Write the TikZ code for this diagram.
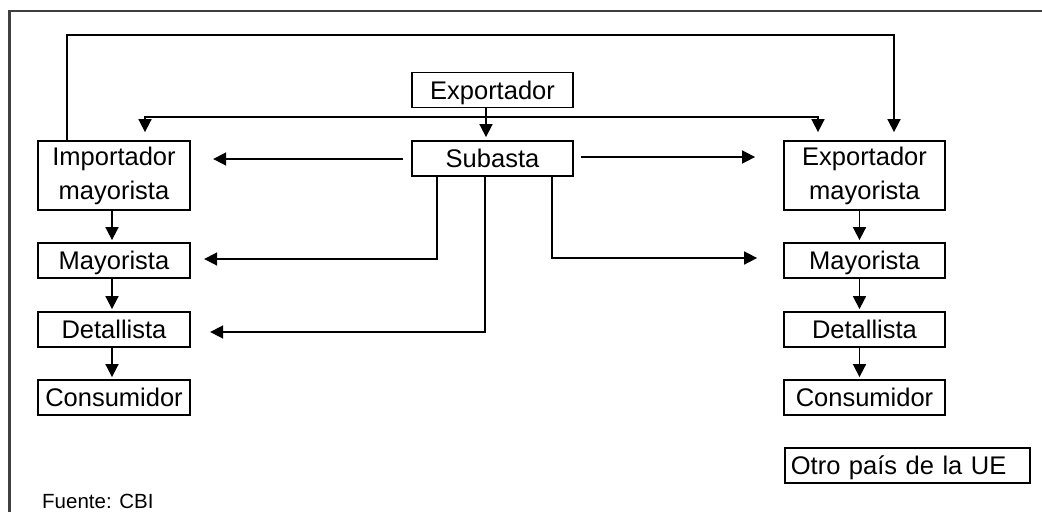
\documentclass[tikz,border=0pt]{standalone}
\usepackage{fontspec}
\setmainfont{Liberation Sans}
\usetikzlibrary{arrows.meta}
\begin{document}
\begin{tikzpicture}[x=1pt,y=-1pt,
  every node/.style={font=\fontsize{25.5}{34}\selectfont},
  box/.style={draw=black, line width=1.8pt, inner sep=0pt, minimum height=35pt},
  one/.style={text height=18.3pt, text depth=0pt},
  lbox/.style={box, minimum width=152.5pt},
  rbox/.style={box, minimum width=161pt},
  ln/.style={draw=black, line width=1.7pt},
  arr/.style={ln, -{Triangle[width=13pt,length=13pt]}},
  darr/.style={ln, {Triangle[width=13pt,length=13pt]}-{Triangle[width=13pt,length=13pt]}}
]
\useasboundingbox (0,0) rectangle (1042,512);
\fill[white] (0,0) rectangle (1042,512);
% frame (top and left edges)
\draw[draw=black!75, line width=2.5pt] (9.5,512) -- (9.5,11) -- (1042,11);

% nodes
\node[rbox, one] (exp) at (492.5,90) {Exportador};
\node[rbox, one] (sub) at (492.5,158.5) {Subasta};
\node[lbox, minimum height=69pt, align=center] (imp) at (114,175.5) {Importador\\mayorista};
\node[lbox, one] (may1) at (114,260.5) {Mayorista};
\node[lbox, one] (det1) at (114,329.5) {Detallista};
\node[lbox, one] (con1) at (114,397.5) {Consumidor};
\node[rbox, minimum height=69pt, align=center] (em) at (864.5,175.5) {Exportador\\mayorista};
\node[rbox, one] (may2) at (864.5,260.5) {Mayorista};
\node[rbox, one] (det2) at (864.5,329.5) {Detallista};
\node[rbox, one] (con2) at (864.5,397.5) {Consumidor};
\node[box, one, anchor=west, text width=233pt, align=left, inner xsep=6pt] (otro) at (784,465.5) {Otro país de la UE};
\node[anchor=base west, inner sep=0pt, font=\fontsize{20.5}{24}\selectfont] (fuente) at (42,508) {Fuente: CBI};

% helper coordinates
\coordinate (topL) at (67,35);
\coordinate (topR) at (894,35);
\coordinate (dL) at (145,117);
\coordinate (dR) at (818,117);
\coordinate (dM) at (486,117);
\coordinate (s1) at (437,0);
\coordinate (s2) at (485,0);
\coordinate (s3) at (552,0);

% connectors
\draw[arr, shorten >=8pt] (imp.north -| topL) -- (topL) -- (topR) -- (em.north -| topR);
\draw[darr, shorten <=8pt, shorten >=8pt] (imp.north -| dL) -- (dL) -- (dR) -- (em.north -| dR);
\draw[arr, shorten >=3pt] (exp.south -| dM) -- (sub.north -| dM);
\draw[arr, shorten <=8pt, shorten >=22pt] ([yshift=-0.5pt]sub.west) -- ([yshift=-0.5pt]sub.west -| imp.east);
\draw[arr, shorten <=7pt, shorten >=28pt] ([yshift=1.5pt]sub.east) -- ([yshift=1.5pt]sub.east -| em.west);
\draw[arr, shorten >=13pt] (sub.south -| s1) |- ([yshift=1.5pt]may1.east);
\draw[arr, shorten >=19pt] (sub.south -| s2) |- ([yshift=-2.5pt]det1.east);
\draw[arr, shorten >=26pt] (sub.south -| s3) |- ([yshift=2.5pt]may2.west);

\draw[arr, shorten >=2pt] ([xshift=-2pt]imp.south) -- ([xshift=-2pt]may1.north);
\draw[arr, shorten >=2pt] ([xshift=-2pt]may1.south) -- ([xshift=-2pt]det1.north);
\draw[arr, shorten >=2pt] ([xshift=-2pt]det1.south) -- ([xshift=-2pt]con1.north);
\draw[arr, shorten >=2pt] ([xshift=-5pt]em.south) -- ([xshift=-5pt]may2.north);
\draw[arr, shorten >=2pt] ([xshift=-5pt]may2.south) -- ([xshift=-5pt]det2.north);
\draw[arr, shorten >=2pt] ([xshift=-5pt]det2.south) -- ([xshift=-5pt]con2.north);
\end{tikzpicture}
\end{document}
